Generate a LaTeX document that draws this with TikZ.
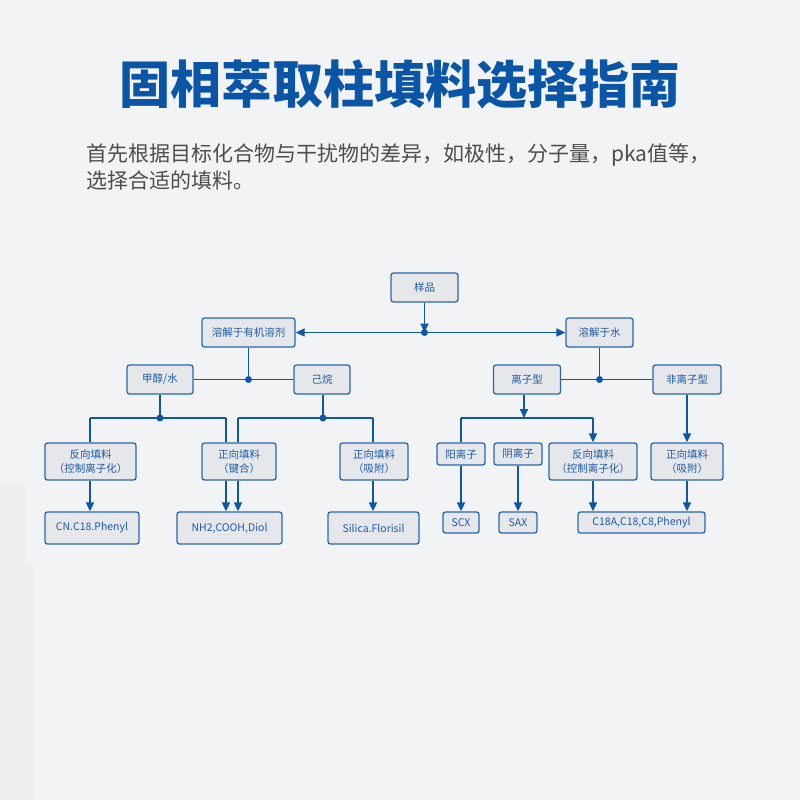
\documentclass[tikz,border=0pt]{standalone}
\usepackage{fontspec}
\newfontfamily\cjk{Noto Sans CJK SC}
\usetikzlibrary{arrows.meta}
\definecolor{bg}{HTML}{F2F3F5}
\definecolor{bgstrip}{HTML}{EEEEEF}
\definecolor{bblue}{HTML}{2A66B0}
\definecolor{lblue}{HTML}{0D57A6}
\definecolor{boxgray}{HTML}{E6E7EA}
\definecolor{tblue}{HTML}{1C5BA6}
\definecolor{titleblue}{HTML}{0B55A6}
\definecolor{subgray}{HTML}{4D4D4D}
\tikzset{
  box/.style={draw=bblue, fill=boxgray, rounded corners=2.5pt, line width=1.3pt,
    font=\cjk\fontsize{10.5}{14}\selectfont, text=tblue, align=center,
    inner sep=0pt},
  conn/.style={draw=lblue, line width=1.8pt},
  arr/.style={conn, -{Triangle[length=9pt,width=8pt]}},
  jdot/.style={circle, fill=lblue, inner sep=0pt, minimum size=7pt},
}
\begin{document}
\begin{tikzpicture}[x=1pt,y=-1pt]
\fill[bg] (0,0) rectangle (800,800);
\useasboundingbox (0,0) rectangle (800,800);
\fill[bgstrip] (0,483) rectangle (25,563);
\fill[bgstrip] (0,563) rectangle (33,800);

% title and subtitle
\node[font=\cjk\bfseries\fontsize{51}{60}\selectfont, text=titleblue, inner sep=0pt] (title) at (400,84) {固相萃取柱填料选择指南};
\node[font=\cjk\fontsize{21}{27}\selectfont, text=subgray, inner sep=0pt, anchor=base west] (sub1) at (86,161) {首先根据目标化合物与干扰物的差异，如极性，分子量，pka值等，};
\node[font=\cjk\fontsize{21}{27}\selectfont, text=subgray, inner sep=0pt, anchor=base west] (sub2) at (86,188) {选择合适的填料。};

% boxes
\node[box, minimum width=67, minimum height=29] (yp) at (424.5,287.5) {样品};
\node[box, minimum width=93, minimum height=29] (org) at (248.5,332.5) {溶解于有机溶剂};
\node[box, minimum width=67, minimum height=29] (water) at (599.5,332.5) {溶解于水};
\node[box, minimum width=66, minimum height=29] (mw) at (160,379.5) {甲醇/水};
\node[box, minimum width=56, minimum height=29] (hex) at (322,379.5) {己烷};
\node[box, minimum width=67, minimum height=29] (ion) at (527,379.5) {离子型};
\node[box, minimum width=68, minimum height=29] (nonion) at (687,379.5) {非离子型};
\node[box, minimum width=91, minimum height=37] (rev1) at (90.5,461.5) {反向填料\\（控制离子化）};
\node[box, minimum width=74, minimum height=37] (bond) at (239,461.5) {正向填料\\（键合）};
\node[box, minimum width=68, minimum height=37] (ads1) at (374,461.5) {正向填料\\（吸附）};
\node[box, minimum width=94, minimum height=32] (cn) at (92,528) {CN.C18.Phenyl};
\node[box, minimum width=105, minimum height=32] (nh) at (229.5,528) {NH2,COOH,Diol};
\node[box, minimum width=91, minimum height=32] (sil) at (373.5,528) {Silica.Florisil};
\node[box, minimum width=48, minimum height=22] (cat) at (461,454) {阳离子};
\node[box, minimum width=48, minimum height=22] (an) at (518,454) {阴离子};
\node[box, minimum width=88, minimum height=37] (rev2) at (593,461.5) {反向填料\\（控制离子化）};
\node[box, minimum width=72, minimum height=37] (ads2) at (687,461.5) {正向填料\\（吸附）};
\node[box, minimum width=36, minimum height=21] (scx) at (461,522.5) {SCX};
\node[box, minimum width=38, minimum height=21] (sax) at (518,522.5) {SAX};
\node[box, minimum width=127, minimum height=21] (c18) at (641.5,522.5) {C18A,C18,C8,Phenyl};

% junction coordinates
\coordinate (d1) at (424.5,332.5);
\coordinate (d2) at (248.5,379.5);
\coordinate (d4) at (599.5,379.5);
\coordinate (d3) at (160,418);
\coordinate (d5) at (323,418);
\coordinate (a1) at (90,418);
\coordinate (a2) at (226,418);
\coordinate (a3) at (238,418);
\coordinate (a4) at (373,418);
\coordinate (b0) at (524,418);
\coordinate (b1) at (461,418);
\coordinate (b2) at (593,418);
\coordinate (b3) at (687,418);

% top level
\draw[arr] (yp.south) -- (d1);
\draw[arr] (d1) -- (org.east);
\draw[arr] (d1) -- (water.west);

% organic branch
\draw[conn] (org.south) -- (d2);
\draw[conn] (mw.east) -- (hex.west);
\draw[conn] (mw.south) -- (d3);
\draw[conn] (a1) -- (a2);
\draw[conn] (a1) -- (a1 |- rev1.north);
\draw[conn] (a2) -- (a2 |- bond.north);
\draw[conn] (hex.south -| d5) -- (d5);
\draw[conn] (a3) -- (a4);
\draw[conn] (a3) -- (a3 |- bond.north);
\draw[conn] (a4) -- (a4 |- ads1.north);
\draw[arr] (a1 |- rev1.south) -- (a1 |- cn.north);
\draw[arr] (a2 |- bond.south) -- (a2 |- nh.north);
\draw[arr] (a3 |- bond.south) -- (a3 |- nh.north);
\draw[arr] (a4 |- ads1.south) -- (a4 |- sil.north);

% water branch
\draw[conn] (water.south) -- (d4);
\draw[conn] (ion.east) -- (nonion.west);
\draw[arr] (b0 |- ion.south) -- (b0);
\draw[conn] (b1) -- (b2);
\draw[conn] (b1) -- (cat.north);
\draw[arr] (b2) -- (rev2.north);
\draw[arr] (b3 |- nonion.south) -- (ads2.north);
\draw[arr] (cat.south) -- (scx.north);
\draw[arr] (an.south) -- (sax.north);
\draw[arr] (rev2.south) -- (b2 |- c18.north);
\draw[arr] (ads2.south) -- (b3 |- c18.north);

% junction dots
\foreach \p in {d1,d2,d3,d4,d5} \node[jdot] at (\p) {};
\end{tikzpicture}
\end{document}
